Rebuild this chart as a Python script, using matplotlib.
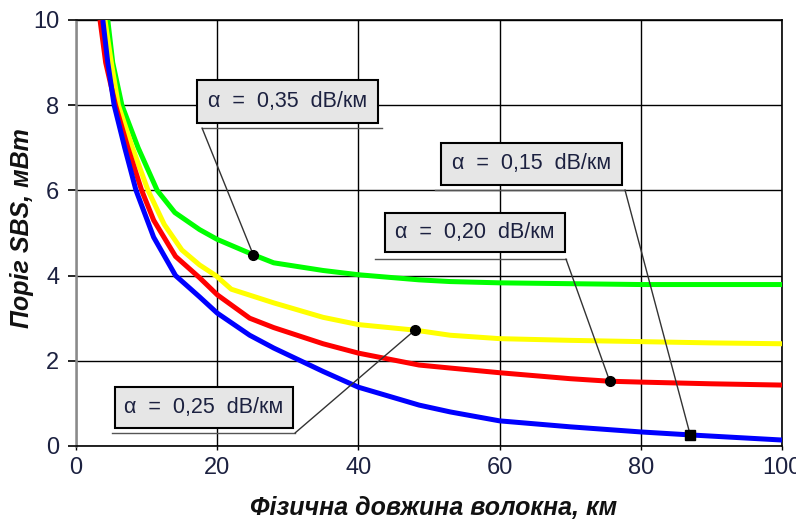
import numpy as np
import matplotlib
matplotlib.use("Agg")
import matplotlib.pyplot as plt
from matplotlib.patches import Rectangle, ConnectionPatch

# SBS threshold vs physical fibre length for several attenuation values
x_035 = [4.5, 5.2, 6.5, 8.8, 11.5, 14, 17.5, 20, 25.1, 28, 35, 40, 48.6, 53, 60, 70, 80, 90, 100]
y_035 = [10, 9.0, 8.0, 7.0, 6.0, 5.48, 5.08, 4.85, 4.49, 4.3, 4.12, 4.02, 3.9, 3.86, 3.83, 3.81, 3.79, 3.79, 3.79]

x_025 = [4.1, 5.0, 6.0, 8.0, 10.2, 12.5, 15, 17.5, 19.8, 22, 28, 35, 40, 48, 53, 60, 70, 80, 90, 100]
y_025 = [10, 9.0, 8.0, 7.0, 6.0, 5.2, 4.6, 4.25, 4.0, 3.68, 3.36, 3.02, 2.85, 2.72, 2.6, 2.52, 2.48, 2.45, 2.42, 2.4]

x_020 = [3.4, 4.2, 5.6, 7.35, 9.3, 11, 14.1, 17.5, 20, 24.6, 28, 35, 40, 48.6, 53, 60, 70, 75.6, 80, 90, 100]
y_020 = [10, 9.0, 8.0, 7.0, 6.0, 5.3, 4.45, 3.95, 3.55, 3.0, 2.78, 2.4, 2.18, 1.9, 1.83, 1.72, 1.58, 1.52, 1.5, 1.46, 1.43]

x_015 = [3.8, 4.5, 5.4, 6.9, 8.5, 11, 14.1, 17.5, 20, 24.6, 28, 35, 40, 48.6, 53, 60, 70, 80, 87, 100]
y_015 = [10, 9.0, 8.0, 7.0, 6.0, 4.9, 4.0, 3.5, 3.12, 2.6, 2.3, 1.75, 1.38, 0.96, 0.8, 0.59, 0.45, 0.33, 0.26, 0.14]

labels = ["α  =  0,35  dB/км", "α  =  0,25  dB/км", "α  =  0,20  dB/км", "α  =  0,15  dB/км"]
pointer_x = [25.1, 48, 75.6, 87]

x_ticks = [0, 20, 40, 60, 80, 100]
y_ticks = [0, 2, 4, 6, 8, 10]

series = [(x_035, y_035, "#00ff00"),
          (x_025, y_025, "#ffff00"),
          (x_020, y_020, "#ff0000"),
          (x_015, y_015, "#0000ff")]

sans = ["Liberation Sans", "DejaVu Sans"]
txt_col = "#1c2140"

fig = plt.figure(figsize=(7.96, 5.22), dpi=100)
ax = fig.add_axes([0.0955, 0.1456, 0.8869, 0.8161])

for xs, ys, c in series:
    ax.plot(xs, ys, color=c, lw=3.6, solid_joinstyle="round", solid_capstyle="butt", zorder=3)

ax.set_xlim(0, 100)
ax.set_ylim(0, 10)
ax.set_xticks(x_ticks)
ax.set_yticks(y_ticks)
ax.set_xticklabels([str(v) for v in x_ticks], family=sans, fontsize=17, color=txt_col)
ax.set_yticklabels([str(v) for v in y_ticks], family=sans, fontsize=17, color=txt_col)
ax.tick_params(axis="y", length=6, width=1.2, color="black", pad=6)
ax.tick_params(axis="x", length=3, width=1.0, color="black", pad=5)
ax.grid(True, color="black", lw=1.0, zorder=1)

for side in ["top", "right", "bottom"]:
    ax.spines[side].set_color("black")
    ax.spines[side].set_linewidth(1.2)
ax.spines["left"].set_color("#8a8a8a")
ax.spines["left"].set_linewidth(1.8)

fig.text(434 / 796, 1 - 508 / 522, "Фізична довжина волокна, км", family=sans, fontsize=18,
         fontweight="bold", style="italic", color="#111111", ha="center", va="center")
fig.text(22 / 796, 1 - 228 / 522, "Поріг SBS, мВт", family=sans, fontsize=18,
         fontweight="bold", style="italic", color="#111111", ha="center", va="center",
         rotation=90)

# label boxes in axes fraction: (x0, x1, y0, y1), underline (x0, x1, y), leader start side
boxes = [
    ((0.1714, 0.4278, 0.758, 0.859), (0.1785, 0.4334, 0.7465), "left"),
    ((0.0552, 0.3074, 0.0423, 0.1385), (0.051, 0.3102, 0.0305), "right"),
    ((0.4377, 0.6926, 0.4554, 0.547), (0.4235, 0.694, 0.439), "right"),
    ((0.517, 0.7734, 0.6127, 0.7113), (0.5085, 0.7776, 0.601), "right"),
]

for (xs, ys, c), lab, px, (bx, ul, side), mk in zip(series, labels, pointer_x, boxes,
                                                     ["o", "o", "o", "s"]):
    x0, x1, y0, y1 = bx
    ax.add_patch(Rectangle((x0, y0), x1 - x0, y1 - y0, transform=ax.transAxes,
                           facecolor="#e6e6e6", edgecolor="black", lw=1.5, zorder=6))
    ax.text((x0 + x1) / 2, (y0 + y1) / 2, lab, transform=ax.transAxes,
            ha="center", va="center", fontsize=15.5, color=txt_col,
            family=sans, zorder=7)
    ax.plot([ul[0], ul[1]], [ul[2], ul[2]], transform=ax.transAxes,
            color="#555555", lw=1.0, zorder=5, clip_on=False)
    py = float(np.interp(px, xs, ys))
    start = (ul[0], ul[2]) if side == "left" else (ul[1], ul[2])
    con = ConnectionPatch(xyA=start, coordsA=ax.transAxes, xyB=(px, py), coordsB=ax.transData,
                          color="#333333", lw=1.0, zorder=5)
    ax.add_artist(con)
    ax.plot([px], [py], marker=mk, color="black", ms=7, zorder=8)

fig.savefig("out.png", dpi=100)
